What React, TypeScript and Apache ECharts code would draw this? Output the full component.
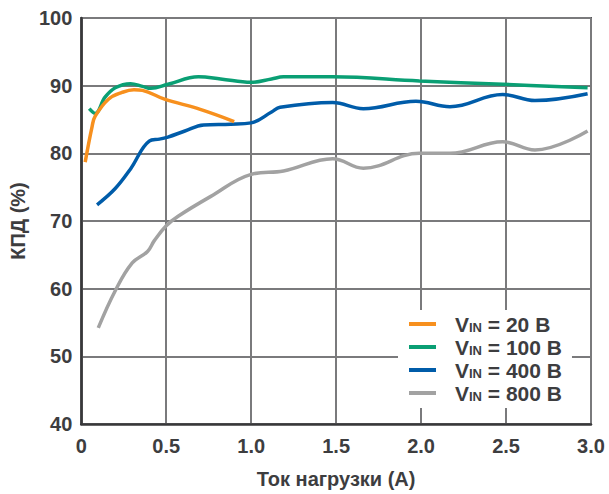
import React, { useEffect, useRef } from "react";
import * as echarts from "echarts";

const xTicks = [0, 0.5, 1.0, 1.5, 2.0, 2.5, 3.0];
const yTicks = [40, 50, 60, 70, 80, 90, 100];
const seriesNames = ["20", "100", "400", "800"];
const seriesColors = ["#F7901E", "#0A9F74", "#005CA9", "#A2A2A2"];

const x20 = [0.023, 0.064, 0.082, 0.16, 0.24, 0.31, 0.36, 0.49, 0.7, 0.9];
const y20 = [78.7, 84.0, 85.5, 88.0, 89.0, 89.4, 89.3, 88.0, 86.5, 84.7];

const x100 = [0.047, 0.082, 0.14, 0.2, 0.29, 0.36, 0.41, 0.51, 0.69, 0.82, 1.0, 1.12, 1.19, 1.48, 1.99, 2.48, 2.98];
const y100 = [86.6, 85.9, 88.3, 89.7, 90.3, 89.9, 89.6, 90.2, 91.3, 91.0, 90.5, 91.0, 91.3, 91.3, 90.7, 90.2, 89.7];

const x400 = [0.093, 0.2, 0.29, 0.4, 0.46, 0.51, 0.61, 0.72, 0.88, 1.0, 1.12, 1.17, 1.48, 1.66, 1.97, 2.17, 2.48, 2.67, 2.98];
const y400 = [72.4, 74.8, 77.7, 81.8, 82.1, 82.4, 83.3, 84.2, 84.3, 84.5, 86.1, 86.8, 87.5, 86.6, 87.7, 86.9, 88.7, 87.8, 88.8];

const x800 = [0.1, 0.2, 0.3, 0.39, 0.43, 0.5, 0.57, 0.76, 1.0, 1.19, 1.48, 1.66, 1.99, 2.17, 2.48, 2.67, 2.98];
const y800 = [54.2, 59.7, 63.8, 65.5, 67.1, 69.3, 70.7, 73.6, 76.9, 77.4, 79.2, 77.8, 80.0, 80.0, 81.7, 80.5, 83.3];

const allX = [x20, x100, x400, x800];
const allY = [y20, y100, y400, y800];

const textColor = "#3d3d3f";
const fontFamily = "'Liberation Sans', Arial, sans-serif";

export default function App() {
  const ref = useRef<HTMLDivElement>(null);
  useEffect(() => {
    if (!ref.current) return;
    const chart = echarts.init(ref.current, null, { renderer: "svg" });
    chart.setOption({
      animation: false,
      grid: {
        left: 79,
        right: 18,
        top: 18,
        bottom: 67,
        show: true,
        borderColor: "#555558",
        borderWidth: 2,
      },
      xAxis: {
        type: "value",
        min: xTicks[0],
        max: xTicks[xTicks.length - 1],
        interval: 0.5,
        name: "Ток нагрузки (A)",
        nameLocation: "middle",
        nameGap: 45,
        nameTextStyle: { color: textColor, fontSize: 20, fontWeight: "bold", fontFamily },
        axisLine: { show: true, lineStyle: { color: "#38383a", width: 2.5 } },
        axisTick: { show: false },
        splitLine: { show: true, lineStyle: { color: "#7a7a7c", width: 2 } },
        axisLabel: {
          color: textColor,
          fontSize: 20,
          fontWeight: "bold",
          fontFamily,
          margin: 12,
          formatter: (v: number) => (v === 0 ? "0" : v.toFixed(1)),
        },
      },
      yAxis: {
        type: "value",
        min: yTicks[0],
        max: yTicks[yTicks.length - 1],
        interval: 10,
        name: "КПД (%)",
        nameLocation: "middle",
        nameGap: 49,
        nameTextStyle: { color: textColor, fontSize: 20, fontWeight: "bold", fontFamily },
        axisLine: { show: true, lineStyle: { color: "#38383a", width: 2.5 } },
        axisTick: { show: false },
        splitLine: { show: true, lineStyle: { color: "#7a7a7c", width: 2 } },
        axisLabel: {
          color: textColor,
          fontSize: 20,
          fontWeight: "bold",
          fontFamily,
          margin: 9,
        },
      },
      legend: {
        orient: "vertical",
        left: 398,
        top: 310,
        backgroundColor: "#ffffff",
        padding: [2, 10, 4, 11],
        itemWidth: 27,
        itemHeight: 4,
        itemGap: 0,
        icon: "rect",
        data: seriesNames,
        formatter: (name: string) => `{a|V}{s|IN}{b| = ${name} B}`,
        textStyle: {
          color: textColor,
          fontFamily,
          fontWeight: "bold",
          rich: {
            a: { fontSize: 21, fontWeight: "bold", color: textColor, fontFamily, lineHeight: 20, verticalAlign: "top", padding: [0, 0, 0, 14] },
            s: { fontSize: 13, fontWeight: "bold", color: textColor, fontFamily, lineHeight: 14, verticalAlign: "bottom", padding: [9, 0, 0, 0] },
            b: { fontSize: 21, fontWeight: "bold", color: textColor, fontFamily, lineHeight: 20, verticalAlign: "top" },
          },
        },
      },
      series: seriesNames.map((name, i) => ({
        name,
        type: "line",
        smooth: 0.4,
        symbol: "none",
        color: seriesColors[i],
        lineStyle: { color: seriesColors[i], width: 3.5 },
        data: allX[i].map((x, j) => [x, allY[i][j]]),
        z: 10 - i,
      })),
    });
    return () => chart.dispose();
  }, []);
  return (
    <div
      ref={ref}
      style={{ position: "fixed", left: 0, top: 0, width: 609, height: 494, background: "#fff" }}
    />
  );
}
